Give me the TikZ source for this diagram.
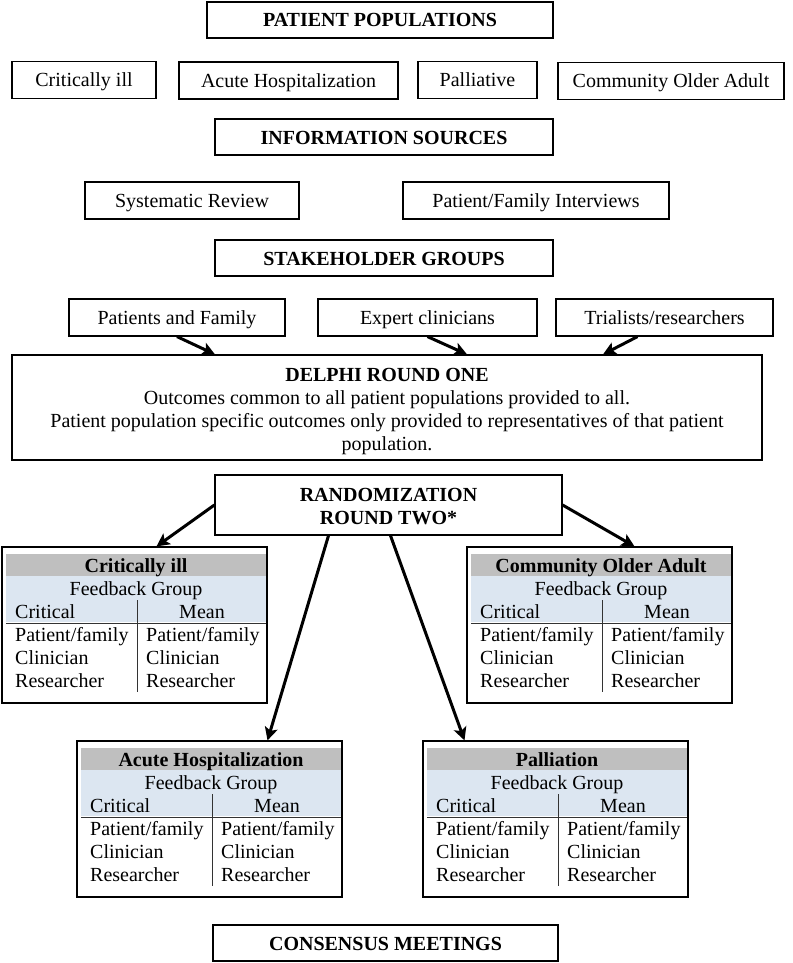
\documentclass[tikz,border=0pt]{standalone}
\usepackage{fontspec}
\setmainfont{Liberation Serif}
\usepackage{xcolor}
\usetikzlibrary{positioning,calc,arrows.meta}

\definecolor{hdrgray}{HTML}{BFBFBF}
\definecolor{hdrblue}{HTML}{DCE6F1}

\begin{document}
\begin{tikzpicture}[x=1pt, y=-1pt,
    box/.style={draw, line width=1.2pt, inner sep=0pt, minimum height=37pt, text height=16pt, text depth=2pt, font=\fontsize{20}{23}\selectfont},
    headbox/.style={box, minimum height=36pt, font=\fontsize{20}{23}\selectfont\bfseries},
    arr/.style={line width=3pt, -{Stealth[length=13pt, width=13pt, inset=3pt]}},
    cell/.style={inner sep=0pt, text height=16pt, text depth=2pt, font=\fontsize{20}{23}\selectfont}]
    \useasboundingbox (0,0) rectangle (792,963);

    % Patient populations
    \node[headbox, minimum width=346pt] (pop) at (380,20) {PATIENT POPULATIONS};
    \node[box, minimum width=144pt] (ci) at (84,80) {Critically ill};
    \node[box, minimum width=219pt] (ah) at (288.5,80.5) {Acute Hospitalization};
    \node[box, minimum width=119pt] (pal) at (477.5,80) {Palliative};
    \node[box, minimum width=226pt] (coa) at (671,81) {Community Older Adult};

    % Information sources
    \node[headbox, minimum width=338pt] (info) at (384,137) {INFORMATION SOURCES};
    \node[box, minimum width=214pt] (sr) at (192,200.5) {Systematic Review};
    \node[box, minimum width=266pt] (pfi) at (536,200.5) {Patient/Family Interviews};

    % Stakeholders
    \node[headbox, minimum width=338pt] (stake) at (384,258) {STAKEHOLDER GROUPS};
    \node[box, minimum width=216pt] (pf) at (177,317.5) {Patients and Family};
    \node[box, minimum width=219pt] (ec) at (427.5,317.5) {Expert clinicians};
    \node[box, minimum width=217pt] (tr) at (664.5,317.5) {Trialists/researchers};

    % Delphi round one
    \node[draw, line width=1.2pt, inner sep=0pt, font=\fontsize{20}{23}\selectfont,
          minimum width=750pt, minimum height=105pt, align=center] (delphi) at (387,407.5)
        {\rule{0pt}{21pt}\textbf{DELPHI ROUND ONE}\\
         Outcomes common to all patient populations provided to all.\\
         Patient population specific outcomes only provided to representatives of that patient\\
         population.};

    \draw[arr] (pf.south) -- ($(delphi.north)+(-172,0)$);
    \draw[arr] (ec.south) -- ($(delphi.north)+(80,0)$);
    \draw[arr] ($(tr.south)+(-27,0)$) -- ($(delphi.north)+(216,0)$);

    % Randomization
    \node[draw, line width=1.2pt, inner sep=0pt, font=\fontsize{20}{23}\selectfont\bfseries,
          minimum width=347pt, minimum height=60pt, align=center] (rand) at (388.5,505)
        {\rule{0pt}{17pt}RANDOMIZATION\\ROUND TWO*};

    % Feedback tables
    \foreach \X/\Y/\ttl/\nm in {2/547/Critically ill/crit, 467/547/Community Older Adult/comm,
                                77/741/Acute Hospitalization/acute, 423/741/Palliation/pall} {
        \fill[hdrgray] (\X+4,\Y+7) rectangle (\X+264,\Y+29);
        \fill[hdrblue] (\X+4,\Y+29) rectangle (\X+264,\Y+75);
        \draw[line width=0.8pt, black!80] (\X+4,\Y+76) -- (\X+264,\Y+76);
        \draw[line width=0.8pt, black!80] (\X+135,\Y+53) -- (\X+135,\Y+145);
        \node[draw, line width=1.2pt, minimum width=265pt, minimum height=156pt] (\nm) at (\X+132.5,\Y+78) {};
        \node[cell, font=\fontsize{20}{23}\selectfont\bfseries] at (\X+134,\Y+18) {\ttl};
        \node[cell] at (\X+134,\Y+41) {Feedback Group};
        \node[cell, anchor=west] at (\X+13,\Y+64) {Critical};
        \node[cell] at (\X+200,\Y+64) {Mean};
        \foreach \r/\txt in {0/{Patient/family}, 1/Clinician, 2/Researcher} {
            \node[cell, anchor=west] at (\X+13,\Y+87+23*\r) {\txt};
            \node[cell, anchor=west] at (\X+144,\Y+87+23*\r) {\txt};
        }
    }

    \draw[arr] (rand.west) -- ($(crit.north)+(22,0)$);
    \draw[arr] (rand.east) -- ($(comm.north)+(35,0)$);
    \draw[arr] ($(rand.south)+(-60,0)$) -- ($(acute.north)+(58,0)$);
    \draw[arr] ($(rand.south)+(2,0)$) -- ($(pall.north)+(-91,0)$);

    % Consensus
    \node[headbox, minimum width=345pt] (cons) at (385.5,943) {CONSENSUS MEETINGS};
\end{tikzpicture}
\end{document}
